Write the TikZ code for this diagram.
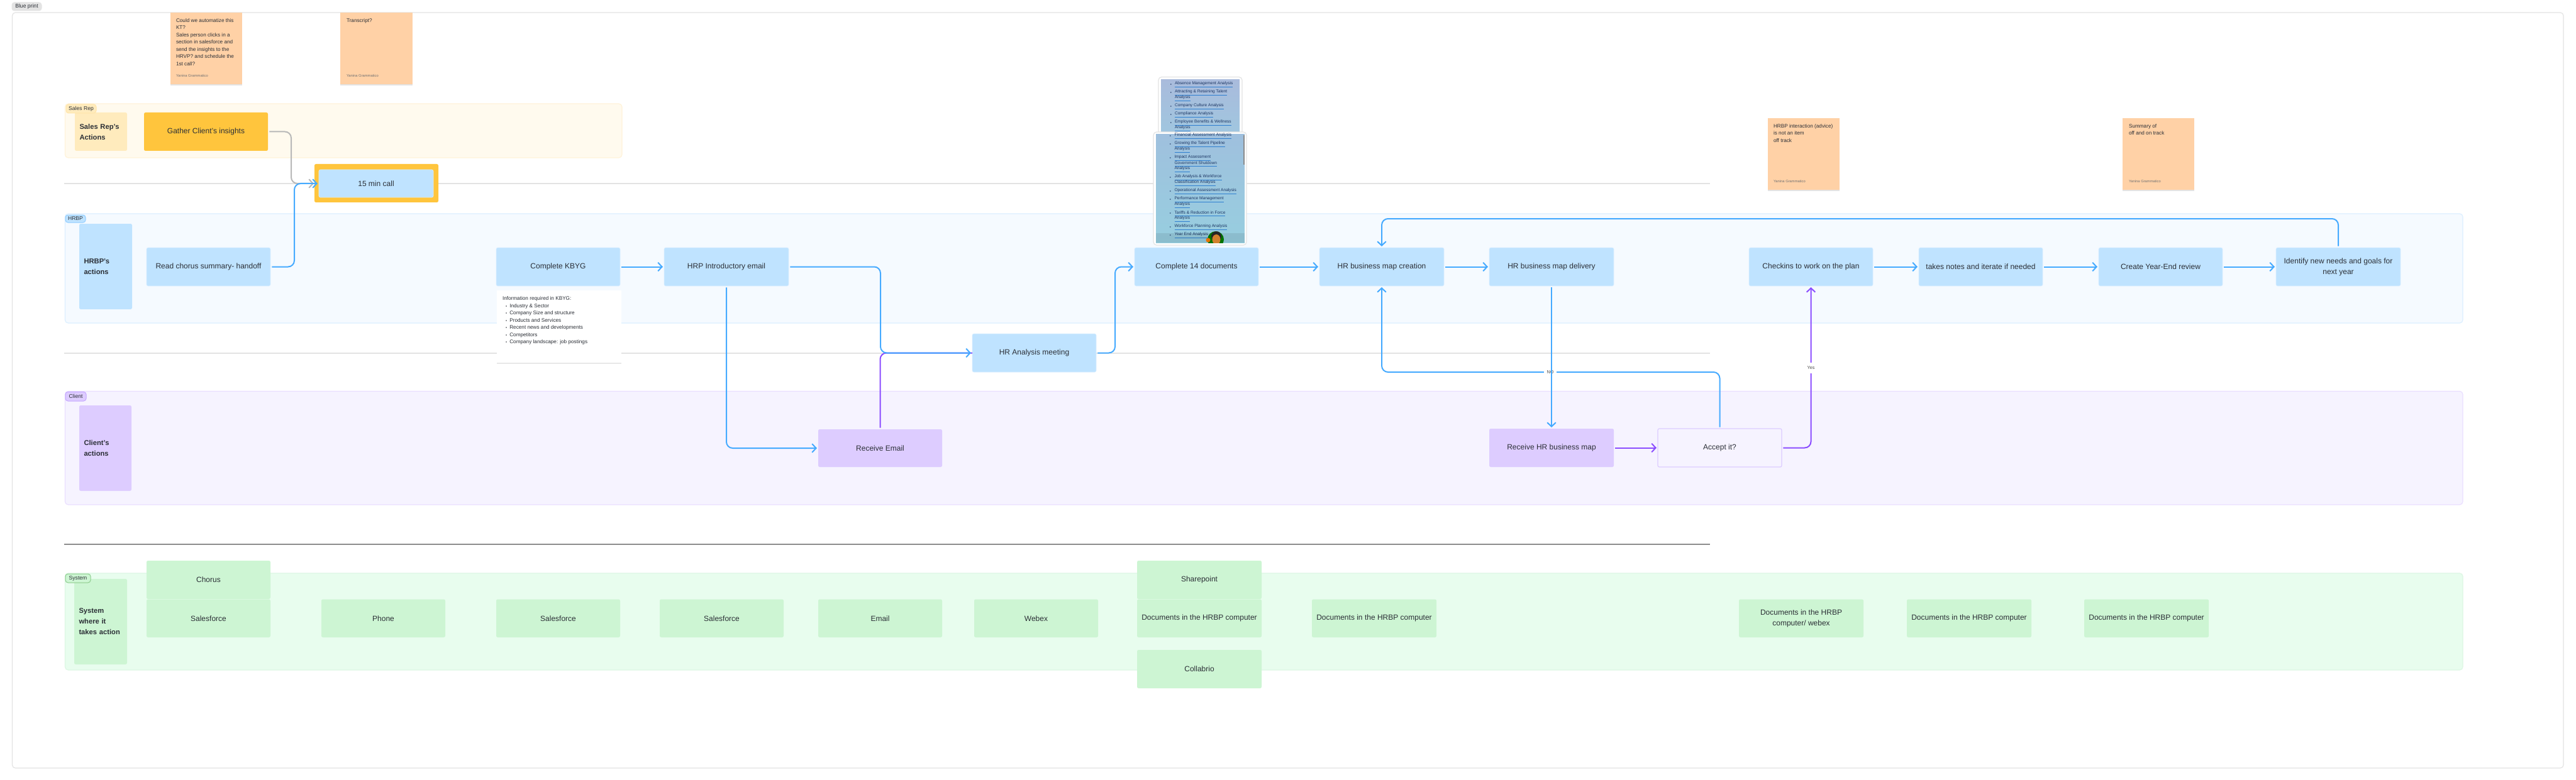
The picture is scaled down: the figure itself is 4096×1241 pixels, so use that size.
\documentclass[tikz,border=0pt]{standalone}
\usepackage{fontspec}
\setmainfont{Liberation Sans}
\usetikzlibrary{arrows.meta,shadows,calc}
\definecolor{bbox}{HTML}{BFE3FF}
\definecolor{blane}{HTML}{F5FAFF}
\definecolor{bedge}{HTML}{DCEFFF}
\definecolor{bline}{HTML}{45AAFF}
\definecolor{pbox}{HTML}{DDCCFF}
\definecolor{plane}{HTML}{F6F3FF}
\definecolor{pedge}{HTML}{EADFFF}
\definecolor{pline}{HTML}{8B4DFF}
\definecolor{gbox}{HTML}{CDF5D3}
\definecolor{glane}{HTML}{E8FDEE}
\definecolor{gedge}{HTML}{DDF7E4}
\definecolor{ybox}{HTML}{FFC53D}
\definecolor{ylight}{HTML}{FFEBBD}
\definecolor{ylane}{HTML}{FFFAEE}
\definecolor{yedge}{HTML}{FFF3D9}
\definecolor{sticky}{HTML}{FFD1A6}
\definecolor{ink}{HTML}{2B2F36}
\definecolor{rule}{HTML}{E3E3E3}
\definecolor{shotink}{HTML}{1C3563}
\definecolor{shotul}{HTML}{2F7FD0}
\definecolor{shotA}{HTML}{A9BBDC}
\definecolor{shotB}{HTML}{A0C6DF}
\definecolor{shotC}{HTML}{9FC0DE}
\definecolor{shotD}{HTML}{97CEDF}
\newcommand\bx[7]{\pgfmathsetmacro\bw{(#4-#2)*0.5}\pgfmathsetmacro\bh{(#5-#3)*0.5}\node[#6,minimum width=\bw pt,minimum height=\bh pt,anchor=north west] (#1) at (#2,#3) {#7};}
\newcommand\hd[7]{\pgfmathsetmacro\bw{(#4-#2)*0.5-7.5}\pgfmathsetmacro\bh{(#5-#3)*0.5}\node[#6,headtext,text width=\bw pt,minimum height=\bh pt,anchor=north west] (#1) at (#2,#3) {#7};}
\newcommand\ul[1]{\rlap{\color{shotul}\underline{\phantom{#1}}}#1}
\newcommand\kb[1]{\hspace*{2.6pt}{\fontsize{3}{3}\selectfont\textbullet}\hspace{2pt}#1}
\tikzset{
 every node/.style={inner sep=0pt,outer sep=0pt,align=center,text=ink,font=\fontsize{6}{8.5}\selectfont},
 card/.style={rounded corners=1.2pt},
 bluebox/.style={card,fill=bbox,draw=bedge,line width=.3pt},
 purplebox/.style={card,fill=pbox},
 greenbox/.style={card,fill=gbox},
 yellowbox/.style={card,fill=ybox},
 lanebox/.style={rounded corners=2.5pt,line width=.6pt},
 tagbox/.style={rounded corners=2pt,line width=.5pt,font=\fontsize{4.3}{5}\selectfont},
 headtext/.style={card,align=left,inner xsep=3.75pt,font=\fontsize{5.6}{8.5}\selectfont\bfseries},
 stickybox/.style={fill=sticky,drop shadow={opacity=.22,shadow xshift=0pt,shadow yshift=-1pt}},
 stickytext/.style={anchor=north west,align=left,font=\fontsize{4.1}{5.75}\selectfont},
 stickyname/.style={anchor=west,text=black!55,font=\fontsize{2.9}{3.5}\selectfont},
 shottext/.style={anchor=west,text=shotink,font=\fontsize{3.3}{4}\selectfont},
 shotdot/.style={anchor=center,text=shotink,font=\fontsize{3}{4}\selectfont},
 flow/.style={line width=1pt,rounded corners=5pt,shorten <=1.2pt},
 flowtip/.style={flow,-{Straight Barb[length=3.2pt,width=6.8pt]},shorten >=1pt},
 blueline/.style={flow,draw=bline},
 bluetip/.style={flowtip,draw=bline},
 purpleline/.style={flow,draw=pline},
 purpletip/.style={flowtip,draw=pline},
 greytip/.style={flowtip,draw=black!28,shorten >=4pt},
 swim/.style={line width=1pt,draw=rule},
 flowlabel/.style={fill=white,font=\fontsize{3.6}{4}\selectfont,text=black!70},
}
\begin{document}
\begin{tikzpicture}[x=0.5pt,y=-0.5pt]
\fill[white] (0,0) rectangle (4096,1241);
\useasboundingbox (0,0) rectangle (4096,1241);
% frame
\bx{frame}{19.5}{20}{4076}{1222}{draw=rule,rounded corners=2.5pt,line width=.6pt}{}
\bx{frametag}{19}{4}{66}{17}{tagbox,fill=rule,draw=rule}{Blue print}
% lanes
\bx{salesLane}{103.5}{165}{989}{251}{lanebox,fill=ylane,draw=yedge}{}
\bx{hrbpLane}{103.5}{340}{3916}{514}{lanebox,fill=blane,draw=bedge}{}
\bx{clientLane}{103.5}{622.5}{3916}{803}{lanebox,fill=plane,draw=pedge}{}
\bx{systemLane}{103.5}{912}{3916}{1066}{lanebox,fill=glane,draw=gedge}{}
% swimlane rules
\draw[swim] (102,292) -- (2719,292);
\draw[swim] (102,561.5) -- (2719,561.5);
\draw[line width=1pt,draw=black!45] (102,866) -- (2719,866);
% stickies
\bx{s1}{271}{20}{385}{134}{stickybox}{}
\node[stickytext] (s1t) at (280,29.5) {Could we automatize this\\KT?\\Sales person clicks in a\\section in salesforce and\\send the insights to the\\HRVP? and schedule the\\1st call?};
\node[stickyname] (s1n) at (280,120.7) {Yanina Grammatico};
\bx{s2}{541}{20}{656}{134}{stickybox}{}
\node[stickytext] (s2t) at (551,29.5) {Transcript?};
\node[stickyname] (s2n) at (551,120.7) {Yanina Grammatico};
\bx{s3}{2811}{188}{2925}{302}{stickybox}{}
\node[stickytext] (s3t) at (2820,197.5) {HRBP interaction (advice)\\is not an item\\off track};
\node[stickyname] (s3n) at (2820,288.7) {Yanina Grammatico};
\bx{s4}{3375}{188}{3489}{302}{stickybox}{}
\node[stickytext] (s4t) at (3385,197.5) {Summary of\\off and on track};
\node[stickyname] (s4n) at (3385,288.7) {Yanina Grammatico};
% lane tags and heads
\hd{salesHead}{119}{179}{202}{240}{fill=ylight}{Sales Rep's\\Actions}
\bx{salesTag}{105}{166}{153}{180}{tagbox,fill=ylight,draw=ybox!45}{Sales Rep}
\hd{hrbpHead}{126}{356}{210}{492}{fill=bbox}{HRBP's\\actions}
\bx{hrbpTag}{104}{342}{136}{354}{tagbox,fill=bbox,draw=bline!60}{HRBP}
\hd{clientHead}{126}{645}{209}{781}{fill=pbox}{Client's\\actions}
\bx{clientTag}{104}{623.5}{137}{638}{tagbox,fill=pbox,draw=pline!50}{Client}
\hd{systemHead}{118}{921}{202}{1057}{fill=gbox}{System\\where it\\takes action}
\bx{systemTag}{104}{913}{144}{927}{tagbox,fill=gbox,draw=green!55!black!45}{System}
% sales row
\bx{gather}{229}{179}{426}{240}{yellowbox}{Gather Client's insights}
\bx{callframe}{500}{261}{697}{322}{yellowbox}{}
\bx{call}{507}{270}{689}{314}{bluebox}{15 min call}
% screenshots
\bx{shotBack}{1842}{122.5}{1975}{214}{fill=white,draw=rule,rounded corners=2.5pt,line width=.6pt}{}
\shade[top color=shotA,bottom color=shotB] (1846,127) rectangle (1971,212);
\foreach \y/\t in {134.7/Absence Management Analysis,147.7/Attracting \& Retaining Talent,169.7/Company Culture Analysis,182.7/Compliance Analysis,195.7/Employee Benefits \& Wellness}{
 \node[shotdot] at (1862,\y) {\textbullet};
 \node[shottext] at (1868,\y) {\ul{\t}};}
\foreach \y/\t in {156.7/Analysis,204.7/Analysis}{\node[shottext] at (1868,\y) {\ul{\t}};}
\bx{shotFront}{1834}{210}{1982}{390}{fill=white,draw=rule,rounded corners=2.5pt,line width=.6pt}{}
\shade[top color=shotC,bottom color=shotD] (1838,214) rectangle (1979,386);
\foreach \y/\t in {217/Financial Assessment Analysis,230/Growing the Talent Pipeline,252/Impact Assessment,283/Job Analysis \& Workforce,305/Operational Assessment Analysis,318/Performance Management,340/Tariffs \& Reduction in Force,362/Workforce Planning Analysis,375/Year End Analysis}{
 \node[shotdot] at (1861,\y) {\textbullet};
 \node[shottext] at (1867.5,\y) {\ul{\t}};}
\foreach \y/\t in {239/Analysis,261/Government Shutdown,270/Analysis,292/Classification Analysis,327/Analysis,349/Analysis}{\node[shottext] at (1867.5,\y) {\ul{\t}};}
\fill[black,opacity=.08] (1838,371) rectangle (1979,386);
\fill[black!45] (1977,215) rectangle (1979,262);
\begin{scope}
\clip (1900,360) rectangle (1979,386);
\fill[green!45!black] (1933,381) circle (13);
\fill[orange!90!black] (1921,382) circle (3.5);
\fill[black!85] (1934,376) circle (8);
\fill[brown!70!orange] (1934,381) ellipse (6.5 and 8);
\end{scope}
% kbyg note
\bx{kbyg}{789.5}{462}{988}{577}{fill=white,drop shadow={opacity=.18,shadow xshift=0pt,shadow yshift=-.8pt}}{}
\node[stickytext] (kbygt) at (799,472) {Information required in KBYG:\\\kb{Industry \& Sector}\\\kb{Company Size and structure}\\\kb{Products and Services}\\\kb{Recent news and developments}\\\kb{Competitors}\\\kb{Company landscape: job postings}};
% hrbp row
\bx{read}{233}{394}{430}{455}{bluebox}{Read chorus summary- handoff}
\bx{complete}{789}{394}{986}{455}{bluebox}{Complete KBYG}
\bx{intro}{1056}{394}{1254}{455}{bluebox}{HRP Introductory email}
\bx{analysis}{1546}{531}{1743}{592}{bluebox}{HR Analysis meeting}
\bx{docs}{1804}{394}{2001}{455}{bluebox}{Complete 14 documents}
\bx{create}{2098}{394}{2296}{455}{bluebox}{HR business map creation}
\bx{deliver}{2368}{394}{2566}{455}{bluebox}{HR business map delivery}
\bx{checkin}{2781}{394}{2978}{455}{bluebox}{Checkins to work on the plan}
\bx{notes}{3051}{394}{3248}{455}{bluebox}{takes notes and iterate if needed}
\bx{review}{3337}{394}{3534}{455}{bluebox}{Create Year-End review}
\bx{identify}{3619}{394}{3817}{455}{bluebox}{Identify new needs and goals for\\next year}
% client row
\bx{email}{1301}{683}{1498}{743}{purplebox}{Receive Email}
\bx{receive}{2368}{682}{2566}{743}{purplebox}{Receive HR business map}
\bx{accept}{2636}{682}{2833}{743}{card,fill=plane,draw=pbox,line width=.6pt}{Accept it?}
% system row
\bx{chorus}{233}{892}{430}{953}{greenbox}{Chorus}
\bx{sf1}{233}{953.5}{430}{1014}{greenbox}{Salesforce}
\bx{phone}{511}{953.5}{708}{1014}{greenbox}{Phone}
\bx{sf2}{789}{953.5}{986}{1014}{greenbox}{Salesforce}
\bx{sf3}{1049}{953.5}{1246}{1014}{greenbox}{Salesforce}
\bx{mail}{1301}{953.5}{1498}{1014}{greenbox}{Email}
\bx{webex}{1549}{953.5}{1746}{1014}{greenbox}{Webex}
\bx{share}{1808}{892}{2006}{953}{greenbox}{Sharepoint}
\bx{d1}{1808}{953.5}{2006}{1014}{greenbox}{Documents in the HRBP computer}
\bx{collab}{1808}{1034}{2006}{1095}{greenbox}{Collabrio}
\bx{d2}{2086}{953.5}{2284}{1014}{greenbox}{Documents in the HRBP computer}
\bx{d3}{2765}{953.5}{2963}{1014}{greenbox}{Documents in the HRBP\\computer/ webex}
\bx{d4}{3032}{953.5}{3230}{1014}{greenbox}{Documents in the HRBP computer}
\bx{d5}{3314}{953.5}{3512}{1014}{greenbox}{Documents in the HRBP computer}
% routing helpers
\coordinate (xa) at (463,0);
\coordinate (xb) at (468,0);
\coordinate (xc) at (1400,0);
\coordinate (xd) at (1773,0);
\coordinate (ytop) at (0,348);
\coordinate (yno) at (0,592);
% connectors
\draw[greytip] (gather.east) -- (gather.east -| xa) -- (call.west -| xa) -- (call.west);
\draw[bluetip] (read.east) -- (read.east -| xb) -- (call.west -| xb) -- (call.west);
\draw[bluetip] (complete.east) -- (intro.west);
\draw[purpleline] (email.north) -- (analysis.west -| email.north) -- (analysis.west);
\draw[bluetip] (intro.east) -- (intro.east -| xc) -- (analysis.west -| xc) -- (analysis.west);
\draw[bluetip] (intro.south) |- (email.west);
\draw[bluetip] (analysis.east) -- (analysis.east -| xd) -- (docs.west -| xd) -- (docs.west);
\draw[bluetip] (docs.east) -- (create.west);
\draw[bluetip] (create.east) -- (deliver.west);
\draw[bluetip] (checkin.east) -- (notes.west);
\draw[bluetip] (notes.east) -- (review.west);
\draw[bluetip] (review.east) -- (identify.west);
\draw[bluetip] (identify.north) -- (identify.north |- ytop) -- (create.north |- ytop) -- (create.north);
\draw[bluetip] (accept.north) -- (accept.north |- yno) -- (create.south |- yno) -- (create.south);
\node[flowlabel,minimum width=10pt,minimum height=4pt] (no) at (2465,592) {NO};
\draw[bluetip] (deliver.south) -- (receive.north);
\draw[purpletip] (receive.east) -- (accept.west);
\draw[purpletip] (accept.east) -- (accept.east -| checkin.south) -- (checkin.south);
\node[flowlabel,minimum width=6pt,minimum height=8.5pt] (yes) at (2879.5,585.5) {Yes};
\end{tikzpicture}
\end{document}
